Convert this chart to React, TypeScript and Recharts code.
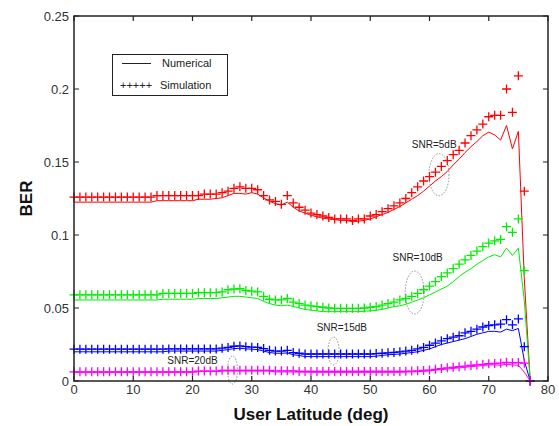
import React from "react";
import { Line, LineChart, ReferenceDot, XAxis, YAxis } from "recharts";

const FONT = "'Liberation Sans', Arial, sans-serif";

// latitude in degrees, one point per degree
const latitude = [
  0, 1, 2, 3, 4, 5, 6, 7, 8, 9, 10, 11, 12, 13, 14, 15, 16, 17, 18, 19, 20, 21, 22, 23, 24, 25,
  26, 27, 28, 29, 30, 31, 32, 33, 34, 35, 36, 37, 38, 39, 40, 41, 42, 43, 44, 45, 46, 47, 48, 49,
  50, 51, 52, 53, 54, 55, 56, 57, 58, 59, 60, 61, 62, 63, 64, 65, 66, 67, 68, 69, 70, 71, 72, 73,
  74, 75, 76, 77,
];

// SNR = 5 dB
const redSim = [
  0.126, 0.126, 0.126, 0.126, 0.126, 0.126, 0.126, 0.126, 0.126, 0.126,
  0.126, 0.126, 0.126, 0.126, 0.127, 0.127, 0.127, 0.127, 0.127, 0.127,
  0.127, 0.127, 0.128, 0.128, 0.128, 0.129, 0.13, 0.132, 0.133, 0.132,
  0.132, 0.131, 0.127, 0.124, 0.123, 0.121, 0.127, 0.122, 0.119, 0.117,
  0.115, 0.114, 0.113, 0.112, 0.111, 0.111, 0.111, 0.11, 0.111, 0.111,
  0.113, 0.114, 0.116, 0.118, 0.12, 0.122, 0.125, 0.129, 0.133, 0.137,
  0.14, 0.143, 0.147, 0.151, 0.155, 0.158, 0.163, 0.168, 0.172, 0.176,
  0.181, 0.182, 0.182, 0.2, 0.184, 0.209, 0.13, 0,
];
const redNum = [
  0.1225, 0.1225, 0.1225, 0.1225, 0.1225, 0.1225, 0.1225, 0.1225, 0.1225, 0.1225,
  0.1225, 0.1225, 0.1225, 0.1225, 0.1235, 0.1235, 0.1235, 0.1235, 0.1235, 0.1235,
  0.1235, 0.1245, 0.1245, 0.1245, 0.125, 0.1255, 0.127, 0.1285, 0.1285, 0.128,
  0.129, 0.128, 0.1255, 0.123, 0.1215, 0.1205, 0.1225, 0.119, 0.1165, 0.115,
  0.1135, 0.1125, 0.1115, 0.111, 0.1105, 0.11, 0.11, 0.109, 0.1095, 0.11,
  0.111, 0.1125, 0.114, 0.1155, 0.1175, 0.1195, 0.122, 0.1245, 0.127, 0.13,
  0.1335, 0.137, 0.14, 0.1435, 0.148, 0.152, 0.1565, 0.1605, 0.164, 0.168,
  0.1705, 0.1685, 0.165, 0.175, 0.159, 0.171, 0.07, 0,
];

// SNR = 10 dB
const greenSim = [
  0.059, 0.059, 0.059, 0.059, 0.059, 0.059, 0.059, 0.059, 0.059, 0.059,
  0.059, 0.059, 0.059, 0.059, 0.059, 0.06, 0.06, 0.06, 0.06, 0.06,
  0.06, 0.0605, 0.0605, 0.0605, 0.0605, 0.061, 0.0625, 0.063, 0.0632, 0.062,
  0.0615, 0.061, 0.058, 0.056, 0.0555, 0.0555, 0.0565, 0.054, 0.053, 0.052,
  0.0515, 0.051, 0.0505, 0.05, 0.0498, 0.0498, 0.0498, 0.0498, 0.0498, 0.05,
  0.0505, 0.051, 0.052, 0.053, 0.054, 0.0555, 0.0565, 0.058, 0.06, 0.0625,
  0.065, 0.068, 0.0715, 0.074, 0.077, 0.08, 0.083, 0.086, 0.089, 0.092,
  0.0945, 0.096, 0.097, 0.1057, 0.1018, 0.111, 0.0756, 0,
];
const greenNum = [
  0.0555, 0.0555, 0.0555, 0.0555, 0.0555, 0.0555, 0.0555, 0.0555, 0.0555, 0.0555,
  0.0555, 0.0555, 0.0555, 0.0555, 0.0555, 0.056, 0.056, 0.056, 0.056, 0.056,
  0.056, 0.0565, 0.0565, 0.0565, 0.0565, 0.057, 0.0575, 0.058, 0.058, 0.0575,
  0.057, 0.0565, 0.0545, 0.053, 0.052, 0.0515, 0.052, 0.051, 0.05, 0.049,
  0.0485, 0.048, 0.0475, 0.0475, 0.0475, 0.0475, 0.0475, 0.0475, 0.0475, 0.0478,
  0.048, 0.0485, 0.049, 0.05, 0.051, 0.0515, 0.0525, 0.054, 0.0555, 0.057,
  0.059, 0.061, 0.063, 0.065, 0.068, 0.0715, 0.0745, 0.077, 0.08, 0.0825,
  0.085, 0.0865, 0.085, 0.091, 0.086, 0.091, 0.055, 0,
];

// SNR = 15 dB
const blueSim = [
  0.0218, 0.0218, 0.0218, 0.0218, 0.0218, 0.0218, 0.0218, 0.0218, 0.0218, 0.0218,
  0.0218, 0.0218, 0.0218, 0.0218, 0.0218, 0.0218, 0.022, 0.022, 0.022, 0.022,
  0.022, 0.022, 0.022, 0.022, 0.022, 0.0225, 0.023, 0.0238, 0.024, 0.0235,
  0.0232, 0.023, 0.0222, 0.021, 0.0205, 0.0205, 0.021, 0.0195, 0.019, 0.0185,
  0.0185, 0.0185, 0.0185, 0.0185, 0.0185, 0.0185, 0.0185, 0.0185, 0.0185, 0.0185,
  0.0185, 0.0188, 0.019, 0.0193, 0.0196, 0.02, 0.0205, 0.021, 0.022, 0.023,
  0.0245, 0.026, 0.0275, 0.029, 0.03, 0.031, 0.033, 0.034, 0.0355, 0.037,
  0.038, 0.0385, 0.039, 0.042, 0.0385, 0.0425, 0.0235, 0,
];
const blueNum = [
  0.02, 0.02, 0.02, 0.02, 0.02, 0.02, 0.02, 0.02, 0.02, 0.02,
  0.02, 0.02, 0.02, 0.02, 0.02, 0.02, 0.0205, 0.0205, 0.0205, 0.0205,
  0.0205, 0.0205, 0.0205, 0.0205, 0.0205, 0.021, 0.0215, 0.0222, 0.0224, 0.022,
  0.0218, 0.0215, 0.0205, 0.0195, 0.019, 0.019, 0.0192, 0.018, 0.0175, 0.0167,
  0.0167, 0.0167, 0.0167, 0.0167, 0.0167, 0.0167, 0.0167, 0.0167, 0.0167, 0.0167,
  0.0167, 0.017, 0.0175, 0.018, 0.0182, 0.0185, 0.019, 0.0195, 0.02, 0.021,
  0.022, 0.0235, 0.025, 0.026, 0.027, 0.028, 0.029, 0.0305, 0.032, 0.033,
  0.034, 0.034, 0.0335, 0.0355, 0.0345, 0.036, 0.014, 0,
];

// SNR = 20 dB
const magentaSim = [
  0.0063, 0.0063, 0.0063, 0.0063, 0.0063, 0.0063, 0.0063, 0.0063, 0.0063, 0.0063,
  0.0063, 0.0063, 0.0063, 0.0063, 0.0063, 0.0063, 0.0063, 0.0063, 0.0063, 0.0063,
  0.0063, 0.0068, 0.0068, 0.0068, 0.0068, 0.0073, 0.0073, 0.0073, 0.0073, 0.0073,
  0.0073, 0.0073, 0.0073, 0.0073, 0.007, 0.007, 0.007, 0.007, 0.0065, 0.0065,
  0.0065, 0.0065, 0.0065, 0.0065, 0.0065, 0.0065, 0.0065, 0.0065, 0.0065, 0.0065,
  0.0065, 0.0065, 0.0065, 0.0065, 0.0065, 0.0065, 0.0066, 0.0068, 0.007, 0.0072,
  0.0075, 0.008, 0.0085, 0.009, 0.0094, 0.0098, 0.0102, 0.0106, 0.011, 0.0114,
  0.0118, 0.012, 0.0122, 0.0128, 0.0125, 0.0126, 0.0122, 0,
];
const magentaNum = [
  0.006, 0.006, 0.006, 0.006, 0.006, 0.006, 0.006, 0.006, 0.006, 0.006,
  0.006, 0.006, 0.006, 0.006, 0.006, 0.006, 0.006, 0.006, 0.006, 0.006,
  0.006, 0.0065, 0.0065, 0.0065, 0.0065, 0.0068, 0.0068, 0.0068, 0.0068, 0.0068,
  0.0068, 0.0068, 0.0068, 0.0068, 0.0062, 0.0062, 0.0062, 0.0062, 0.0062, 0.0062,
  0.006, 0.006, 0.006, 0.006, 0.006, 0.006, 0.006, 0.006, 0.006, 0.006,
  0.006, 0.006, 0.006, 0.006, 0.006, 0.006, 0.0061, 0.0062, 0.0064, 0.0066,
  0.007, 0.0074, 0.0078, 0.0082, 0.0086, 0.009, 0.0094, 0.0098, 0.0102, 0.0106,
  0.011, 0.011, 0.0108, 0.0115, 0.011, 0.0108, 0.006, 0,
];

const xTicks = [0, 10, 20, 30, 40, 50, 60, 70, 80];
const yTicks = [0, 0.05, 0.1, 0.15, 0.2, 0.25];

// SNR labels and the dotted ellipses around each curve pair
const snrLabels = [
  { text: "SNR=5dB", lat: 60.8, ber: 0.1596 },
  { text: "SNR=10dB", lat: 58.0, ber: 0.0822 },
  { text: "SNR=15dB", lat: 45.2, ber: 0.0342 },
  { text: "SNR=20dB", lat: 20.0, ber: 0.0116 },
];
const snrEllipses = [
  { lat: 61.6, ber: 0.1413, rx: 10, ry: 21 },
  { lat: 57.5, ber: 0.0606, rx: 9.5, ry: 21.5 },
  { lat: 43.8, ber: 0.0205, rx: 5.5, ry: 14 },
  { lat: 26.75, ber: 0.0075, rx: 5, ry: 14 },
];

const series = [
  { sim: "redSim", num: "redNum", color: "#ff0000" },
  { sim: "greenSim", num: "greenNum", color: "#00ee00" },
  { sim: "blueSim", num: "blueNum", color: "#0000ff" },
  { sim: "magentaSim", num: "magentaNum", color: "#ff00ff" },
];

const data = latitude.map((lat, i) => ({
  lat,
  redSim: redSim[i],
  redNum: redNum[i],
  greenSim: greenSim[i],
  greenNum: greenNum[i],
  blueSim: blueSim[i],
  blueNum: blueNum[i],
  magentaSim: magentaSim[i],
  magentaNum: magentaNum[i],
}));

const plusDot = (color: string) => (props: any) => {
  const { cx, cy, index } = props;
  if (cx == null || cy == null) return <g key={`p-${index}`} />;
  return (
    <path
      key={`p-${color}-${index}`}
      d={`M${cx - 4.5},${cy}h9M${cx},${cy - 4.5}v9`}
      stroke={color}
      strokeWidth={1.3}
      fill="none"
    />
  );
};

const AXIS = "#222";

// plot box (chart margins + axis sizes)
const BOX = { left: 74, top: 16, width: 474, height: 365 };

// frame with inward ticks on all four sides, drawn over the chart
const Frame: React.FC = () => {
  const px = (t: number) => BOX.left + (t / 80) * BOX.width;
  const py = (t: number) => BOX.top + BOX.height - (t / 0.25) * BOX.height;
  const bottom = BOX.top + BOX.height;
  const right = BOX.left + BOX.width;
  return (
    <svg
      width={559}
      height={426}
      style={{ position: "absolute", left: 0, top: 0, pointerEvents: "none", zIndex: 5 }}
    >
      <path
        d={`M${BOX.left},${BOX.top}H${right}V${bottom}H${BOX.left}Z`}
        fill="none"
        stroke={AXIS}
        strokeWidth={1.5}
      />
      {xTicks.map((t) => (
        <path key={`x${t}`} d={`M${px(t)},${bottom}v-5M${px(t)},${BOX.top}v5`} stroke={AXIS} strokeWidth={1.2} />
      ))}
      {yTicks.map((t) => (
        <path key={`y${t}`} d={`M${BOX.left},${py(t)}h5M${right},${py(t)}h-5`} stroke={AXIS} strokeWidth={1.2} />
      ))}
    </svg>
  );
};

const App: React.FC = () => {
  return (
    <div style={{ position: "absolute", left: 0, top: 0, width: 559, height: 426, background: "#fff" }}>
      <LineChart
        width={559}
        height={426}
        data={data}
        margin={{ top: 16, right: 11, bottom: 0, left: 0 }}
        style={{ fontFamily: FONT }}
      >
        <XAxis
          type="number"
          dataKey="lat"
          domain={[0, 80]}
          ticks={xTicks}
          height={45}
          tickSize={-5}
          tickMargin={9}
          tickLine={false}
          axisLine={false}
          tick={{ fill: "#333", fontSize: 13 }}
          label={{
            content: (p: any) => (
              <text
                x={p.viewBox.x + p.viewBox.width / 2}
                y={p.viewBox.y + 39}
                textAnchor="middle"
                fontSize={17}
                fontWeight="bold"
                fill="#111"
              >
                User Latitude (deg)
              </text>
            ),
          }}
        />
        <YAxis
          type="number"
          domain={[0, 0.25]}
          ticks={yTicks}
          width={74}
          tickSize={-5}
          tickMargin={10}
          tickLine={false}
          axisLine={false}
          tick={{ fill: "#333", fontSize: 13 }}
          label={{
            content: (p: any) => {
              const cx = p.viewBox.x + 26;
              const cy = p.viewBox.y + p.viewBox.height / 2;
              return (
                <text
                  x={cx}
                  y={cy}
                  transform={`rotate(-90 ${cx} ${cy})`}
                  textAnchor="middle"
                  dominantBaseline="central"
                  fontSize={17}
                  fontWeight="bold"
                  fill="#111"
                >
                  BER
                </text>
              );
            },
          }}
        />
        {series.map((s) => (
          <Line
            key={s.num}
            type="linear"
            dataKey={s.num}
            stroke={s.color}
            strokeWidth={1}
            dot={false}
            isAnimationActive={false}
          />
        ))}
        {series.map((s) => (
          <Line
            key={s.sim}
            type="linear"
            dataKey={s.sim}
            stroke="none"
            dot={plusDot(s.color)}
            activeDot={false}
            isAnimationActive={false}
          />
        ))}
        {snrEllipses.map((e, i) => (
          <ReferenceDot
            key={`e-${i}`}
            x={e.lat}
            y={e.ber}
            r={0}
            shape={(p: any) => (
              <ellipse
                cx={p.cx}
                cy={p.cy}
                rx={e.rx}
                ry={e.ry}
                fill="none"
                stroke="#777"
                strokeWidth={0.8}
                strokeDasharray="1.5 1.5"
              />
            )}
          />
        ))}
        {snrLabels.map((l, i) => (
          <ReferenceDot
            key={`l-${i}`}
            x={l.lat}
            y={l.ber}
            r={0}
            shape={(p: any) => (
              <text x={p.cx} y={p.cy} textAnchor="middle" fontSize={10} fill="#222">
                {l.text}
              </text>
            )}
          />
        ))}
      </LineChart>
      <Frame />
      <div
        style={{
          position: "absolute",
          left: 112,
          top: 54,
          width: 114,
          height: 40,
          border: "1px solid #222",
          background: "#fff",
          fontFamily: FONT,
          fontSize: 11,
          color: "#222",
          zIndex: 6,
        }}
      >
        <div style={{ position: "absolute", left: 9, top: 8, width: 29, borderTop: "1px solid #222" }} />
        <div style={{ position: "absolute", left: 49, top: 2 }}>Numerical</div>
        <div style={{ position: "absolute", left: 7, top: 24 }}>+++++</div>
        <div style={{ position: "absolute", left: 47, top: 24 }}>Simulation</div>
      </div>
    </div>
  );
};

export default App;
